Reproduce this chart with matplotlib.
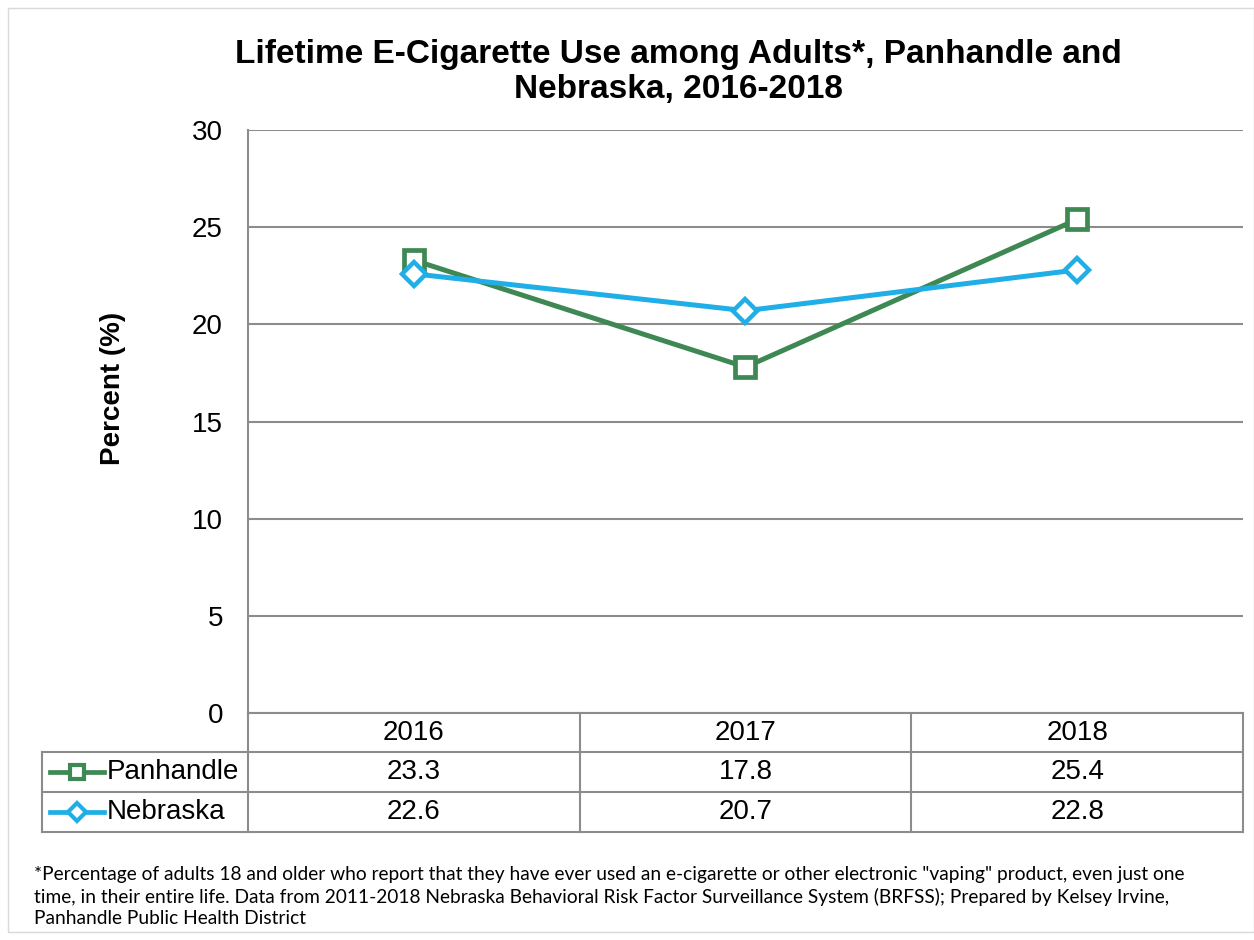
import matplotlib
matplotlib.use("Agg")
import matplotlib.pyplot as plt
from matplotlib.lines import Line2D
from matplotlib.patches import Rectangle
import matplotlib.transforms as mtrans

years = ["2016", "2017", "2018"]
panhandle = [23.3, 17.8, 25.4]
nebraska = [22.6, 20.7, 22.8]
series_names = ["Panhandle", "Nebraska"]
yticks = [0, 5, 10, 15, 20, 25, 30]

title = "Lifetime E-Cigarette Use among Adults*, Panhandle and\nNebraska, 2016-2018"
ylabel = "Percent (%)"
footnote = ("*Percentage of adults 18 and older who report that they have ever used an e-cigarette or other electronic \"vaping\" product, even just one\n"
            "time, in their entire life. Data from 2011-2018 Nebraska Behavioral Risk Factor Surveillance System (BRFSS); Prepared by Kelsey Irvine,\n"
            "Panhandle Public Health District")

GREEN = "#3E8853"
BLUE = "#1FAEE5"
GRID = "#8C8C8C"

W, H = 1254, 940
fig = plt.figure(figsize=(W / 100, H / 100), dpi=100)
plt.rcParams['font.family'] = ['Liberation Sans', 'DejaVu Sans']

def fx(px):
    return px / W
def fy(py):
    return 1 - py / H

# outer border
fig.add_artist(Rectangle((fx(8), fy(932)), fx(1254) - fx(8), fy(8) - fy(932),
                         transform=fig.transFigure, fill=False, edgecolor="#D9D9D9", lw=1.0))

left, right, top, bottom = 248, 1243, 130, 713
ax = fig.add_axes([fx(left), fy(bottom), fx(right) - fx(left), fy(top) - fy(bottom)])
x = list(range(len(years)))
ax.set_xlim(-0.5, len(years) - 0.5)
ax.set_ylim(0, 30)
ax.set_yticks(yticks)
ax.yaxis.grid(True, color=GRID, lw=1.5)
ax.set_axisbelow(True)
for s in ["top", "right", "bottom"]:
    ax.spines[s].set_visible(False)
ax.spines["left"].set_color(GRID)
ax.spines["left"].set_linewidth(1.5)
ax.set_xticks([])
ax.tick_params(axis="y", length=0, labelsize=20, pad=18)
ax.set_ylabel(ylabel, fontsize=20, fontweight="bold")
ax.yaxis.set_label_coords((126 - left) / (right - left), (bottom - 388) / (bottom - top))

ax.plot(x, panhandle, color=GREEN, lw=3.6, marker="s", markersize=14,
        markerfacecolor="white", markeredgecolor=GREEN, markeredgewidth=3.4, clip_on=False, zorder=3)
ax.plot(x, nebraska, color=BLUE, lw=3.6, marker="D", markersize=12,
        markerfacecolor="white", markeredgecolor=BLUE, markeredgewidth=3.2, clip_on=False, zorder=4)

fig.text(fx(678), fy(72), title, ha="center", va="center",
         fontsize=24, fontweight="bold", linespacing=1.15)

# data table
tl = dict(color=GRID, lw=1.5, transform=fig.transFigure)
row_y = [713, 752, 792, 832]
tbl_left = 42
fig.add_artist(Line2D([fx(left), fx(right)], [fy(row_y[0])] * 2, **tl))
for ry in row_y[1:]:
    fig.add_artist(Line2D([fx(tbl_left), fx(right)], [fy(ry)] * 2, **tl))
bt = mtrans.blended_transform_factory(ax.transData, fig.transFigure)
for b in [i - 0.5 for i in range(len(years) + 1)]:
    fig.add_artist(Line2D([b, b], [fy(row_y[0]), fy(row_y[-1])], color=GRID, lw=1.5, transform=bt))
fig.add_artist(Line2D([fx(tbl_left)] * 2, [fy(row_y[1]), fy(row_y[-1])], **tl))

for i, yr in enumerate(years):
    fig.text(i, fy((row_y[0] + row_y[1]) / 2), yr, transform=bt, ha="center", va="center", fontsize=20)
rows = [panhandle, nebraska]
colors = [GREEN, BLUE]
mk = [("s", 10), ("D", 9)]
for r, (vals, name, c, (m, ms)) in enumerate(zip(rows, series_names, colors, mk)):
    cy = fy((row_y[r + 1] + row_y[r + 2]) / 2)
    for i, v in enumerate(vals):
        fig.text(i, cy, f"{v:.1f}", transform=bt, ha="center", va="center", fontsize=20)
    fig.add_artist(Line2D([fx(50), fx(104)], [cy, cy], color=c, lw=3.4, transform=fig.transFigure))
    fig.add_artist(Line2D([fx(77)], [cy], color=c, marker=m, markersize=ms, markerfacecolor="white",
                          markeredgecolor=c, markeredgewidth=3, transform=fig.transFigure))
    fig.text(fx(107), cy, name, ha="left", va="center", fontsize=20)

fig.text(fx(34), fy(866), footnote, ha="left", va="top", fontsize=13.8,
         family=["Lato", "DejaVu Sans"], linespacing=1.3)

fig.savefig("out.png", dpi=100)
